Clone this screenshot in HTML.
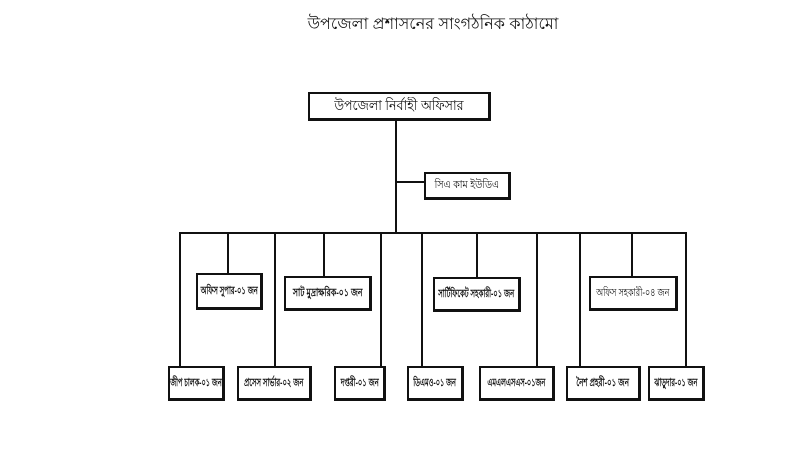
<!DOCTYPE html>
<html><head><meta charset="utf-8"><style>
body{margin:0;width:791px;height:462px;background:#fff;position:relative;overflow:hidden;font-family:"Liberation Sans","Noto Sans CJK SC",sans-serif;}
.b{position:absolute;box-sizing:border-box;border:2px solid #111;border-right-width:3px;border-bottom-width:3px;background:#fff;display:flex;align-items:center;justify-content:center;font-size:11px;font-weight:bold;white-space:nowrap;color:#111;overflow:visible;}
.b span{display:inline-block;transform:scaleX(0.72);}
.t{position:absolute;left:300px;top:11px;width:266px;text-align:center;font-size:16px;color:#111;white-space:nowrap;}
svg{position:absolute;left:0;top:0}
</style></head><body>
<div class="t">উপজেলা প্রশাসনের সাংগঠনিক কাঠামো</div>
<svg width="791" height="462"><g stroke="#111" stroke-width="2" fill="none">
<line x1="396" y1="120" x2="396" y2="234"/>
<line x1="396" y1="182" x2="424" y2="182"/>
<line x1="179" y1="233" x2="687" y2="233"/>
<line x1="180" y1="233" x2="180" y2="367"/>
<line x1="228" y1="233" x2="228" y2="274"/>
<line x1="275" y1="233" x2="275" y2="367"/>
<line x1="324" y1="233" x2="324" y2="277"/>
<line x1="381" y1="233" x2="381" y2="367"/>
<line x1="422" y1="233" x2="422" y2="367"/>
<line x1="477" y1="233" x2="477" y2="278"/>
<line x1="537" y1="233" x2="537" y2="367"/>
<line x1="580" y1="233" x2="580" y2="367"/>
<line x1="632" y1="233" x2="632" y2="277"/>
<line x1="686" y1="233" x2="686" y2="367"/>
</g></svg>
<div class="b" style="left:308px;top:92px;width:183px;height:29px;font-size:14px;font-weight:normal"><span style="transform:scaleX(0.9)">উপজেলা নির্বাহী অফিসার</span></div>
<div class="b" style="left:424px;top:172px;width:87px;height:28px;font-weight:normal"><span style="transform:scaleX(0.85)">সিএ কাম ইউডিএ</span></div>
<div class="b" style="left:196px;top:273px;width:67px;height:37px"><span style="transform:scaleX(0.62)">অফিস সুপার-০১ জন</span></div>
<div class="b" style="left:284px;top:276px;width:88px;height:35px"><span style="transform:scaleX(0.7)">সাট মুদ্রাক্ষরিক-০১ জন</span></div>
<div class="b" style="left:433px;top:277px;width:88px;height:35px"><span style="transform:scaleX(0.62)">সার্টিফিকেট সহকারী-০১ জন</span></div>
<div class="b" style="left:589px;top:276px;width:89px;height:35px;font-weight:normal"><span style="transform:scaleX(0.72)">অফিস সহকারী-০৪ জন</span></div>
<div class="b" style="left:168px;top:366px;width:57px;height:35px"><span style="transform:scaleX(0.6)">জীপ চালক-০১ জন</span></div>
<div class="b" style="left:237px;top:366px;width:75px;height:35px"><span style="transform:scaleX(0.62)">প্রসেস সার্ভার-০২ জন</span></div>
<div class="b" style="left:334px;top:366px;width:52px;height:35px"><span style="transform:scaleX(0.62)">দপ্তরী-০১ জন</span></div>
<div class="b" style="left:407px;top:366px;width:57px;height:35px"><span style="transform:scaleX(0.6)">ডিএমও-০১ জন</span></div>
<div class="b" style="left:479px;top:366px;width:76px;height:35px"><span style="transform:scaleX(0.6)">এমএলএসএস-০১জন</span></div>
<div class="b" style="left:566px;top:366px;width:75px;height:35px"><span style="transform:scaleX(0.65)">নৈশ প্রহরী-০১ জন</span></div>
<div class="b" style="left:648px;top:366px;width:57px;height:35px"><span style="transform:scaleX(0.6)">ঝাড়ুদার-০১ জন</span></div>
</body></html>
